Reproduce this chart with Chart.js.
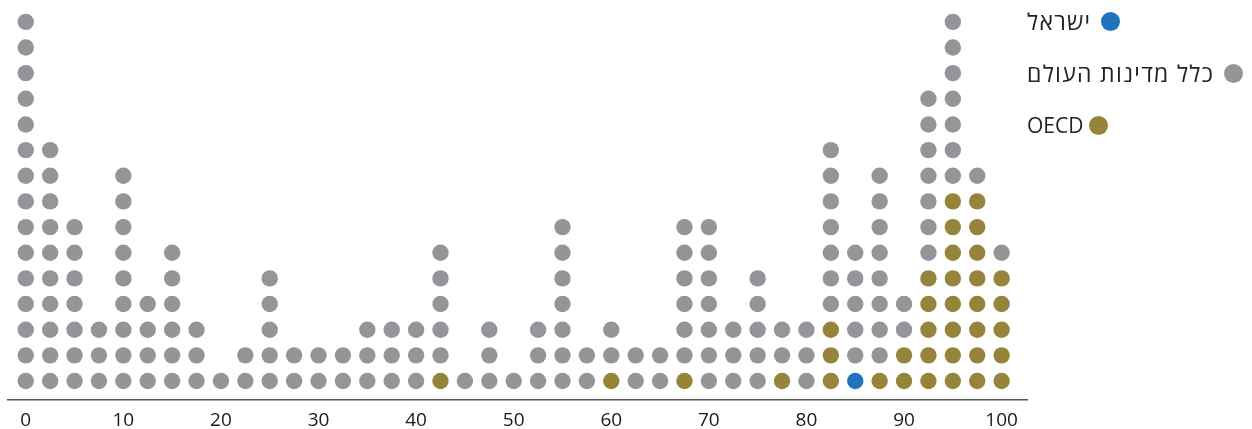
<!DOCTYPE html>
<html><head><meta charset="utf-8">
<script src="https://cdn.jsdelivr.net/npm/chart.js@4/dist/chart.umd.min.js"></script>
<style>
html,body{margin:0;padding:0;background:#fff;overflow:hidden;}
#wrap{position:relative;width:1252px;height:429px;overflow:hidden;}
canvas{position:absolute;left:0;top:0;}
#legend{position:absolute;left:1027px;top:0;font-family:"Open Sans","Noto Sans",sans-serif;font-size:21px;color:#222;}
.item{position:absolute;left:0;display:flex;flex-direction:row;align-items:center;white-space:nowrap;height:24px;}
.item span.t{direction:rtl;unicode-bidi:isolate;}
.item span.he{font-size:23px;letter-spacing:1.3px;}
.dot{display:inline-block;width:19px;height:19px;border-radius:50%;}
</style></head>
<body>
<div id="wrap"><canvas id="c" width="1252" height="442"></canvas><div id="legend"></div></div>
<script>
// Column positions (score buckets), 0..100 step 2.5
const columns = [0,2.5,5,7.5,10,12.5,15,17.5,20,22.5,25,27.5,30,32.5,35,37.5,40,42.5,45,47.5,50,52.5,55,57.5,60,62.5,65,67.5,70,72.5,75,77.5,80,82.5,85,87.5,90,92.5,95,97.5,100];
// Total number of countries (dots) in each column
const totalCounts = [15,10,7,3,9,4,6,3,1,2,5,2,2,2,3,3,3,6,1,3,1,3,7,2,3,2,2,7,7,3,5,3,3,10,6,9,4,12,15,9,6];
// Number of OECD countries in each column (stacked at the bottom)
const oecdCounts  = [0,0,0,0,0,0,0,0,0,0,0,0,0,0,0,0,0,1,0,0,0,0,0,0,1,0,0,1,0,0,0,1,0,3,0,1,2,5,8,8,5];
// Israel's column
const israelValue = 85;
const xTicks = [0,10,20,30,40,50,60,70,80,90,100];
const legendLabels = ["ישראל","כלל מדינות העולם","OECD"];
const colors = {israel:"#2073bd", world:"#939598", oecd:"#97843b"};

const israelPts=[], oecdPts=[], worldPts=[];
columns.forEach((x,i)=>{
  let level=0;
  for(let k=0;k<oecdCounts[i];k++){oecdPts.push({x:x,y:level++});}
  if(x===israelValue){israelPts.push({x:x,y:level++});}
  while(level<totalCounts[i]){worldPts.push({x:x,y:level++});}
});

const ds=(label,data,color)=>({label,data,backgroundColor:color,borderWidth:0,pointRadius:8.2,pointHoverRadius:8.2});

new Chart(document.getElementById('c'),{
  type:'scatter',
  data:{datasets:[ds(legendLabels[1],worldPts,colors.world),ds(legendLabels[2],oecdPts,colors.oecd),ds(legendLabels[0],israelPts,colors.israel)]},
  options:{
    responsive:false,animation:false,
    layout:{padding:{left:7,right:225,top:9,bottom:0}},
    plugins:{legend:{display:false},tooltip:{enabled:false}},
    scales:{
      x:{type:'linear',min:-1.8,max:102.6,
        afterBuildTicks:(s)=>{s.ticks=xTicks.map(v=>({value:v}));},
        grid:{display:false,drawTicks:false},
        border:{display:true,color:'#555',width:1.5},
        ticks:{color:'#1a1a1a',font:{family:'"Open Sans","Noto Sans",sans-serif',size:19,lineHeight:1.2},padding:9.6,maxRotation:0}
      },
      y:{type:'linear',min:-0.74,max:14.5,display:false}
    }
  }
});

const lg=document.getElementById('legend');
const items=[[legendLabels[0],colors.israel,9,true,10],[legendLabels[1],colors.world,61,true,10],[legendLabels[2],colors.oecd,113,false,6]];
items.forEach(([t,c,top,he,gap])=>{
  const d=document.createElement('div');d.className='item';d.style.top=top+'px';
  const s=document.createElement('span');s.className='t'+(he?' he':'');s.textContent=t;
  const dot=document.createElement('span');dot.className='dot';dot.style.background=c;dot.style.marginLeft=gap+'px';
  d.appendChild(s);d.appendChild(dot);lg.appendChild(d);
});
</script>
</body></html>
